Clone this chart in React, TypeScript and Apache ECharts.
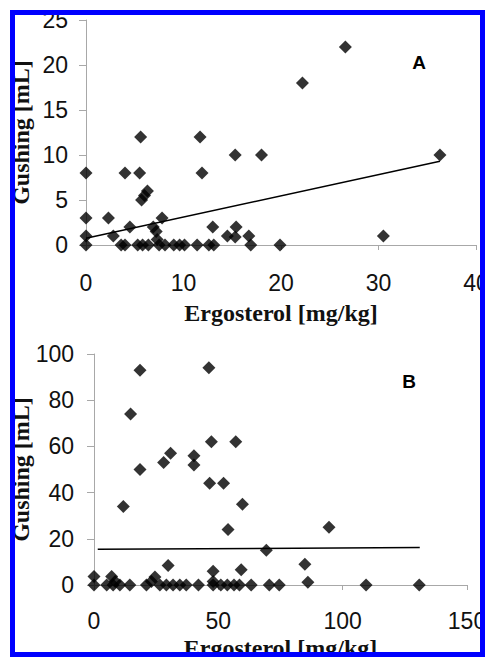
import React, { useEffect, useRef } from "react";
import * as echarts from "echarts";

// Panel A: ergosterol [mg/kg] vs gushing [mL]
const pointsA: [number, number][] = [
  [0, 8], [0, 3], [0, 1], [0, 0],
  [2.3, 3], [2.8, 1], [3.6, 0], [4.0, 0], [4.0, 8], [4.5, 2],
  [5.3, 0], [5.6, 12], [5.5, 8], [5.7, 5], [6.0, 5.5], [6.3, 6],
  [5.8, 0], [6.4, 0], [6.9, 2], [7.2, 1.5], [7.3, 0.6], [7.8, 3],
  [7.5, 0], [8.1, 0], [9.0, 0], [9.6, 0], [10.1, 0],
  [11.4, 0], [11.7, 12], [11.9, 8], [12.6, 0], [13.1, 0], [13.0, 2],
  [14.5, 1], [15.3, 10], [15.4, 2], [15.3, 0.9], [16.7, 1], [16.9, 0],
  [18.0, 10], [19.9, 0], [22.2, 18], [26.6, 22], [30.5, 1], [36.3, 10],
];
const trendA: [number, number][] = [
  [0, 0.75],
  [36.3, 9.3],
];
const xTicksA = { min: 0, max: 40, interval: 10 };
const yTicksA = { min: 0, max: 25, interval: 5 };

// Panel B
const pointsB: [number, number][] = [
  [0, 3.7], [0, 0], [5.1, 0], [7.1, 3.7], [7.7, 0], [8.5, 1.5], [10.4, 0], [14.4, 0],
  [11.8, 34], [14.7, 74], [18.5, 93], [18.5, 50],
  [21.1, 0], [23.1, 1.5], [24.5, 3.5], [26.5, 0], [28.0, 53], [29.1, 0],
  [30.8, 57], [29.8, 8.4], [31.8, 0], [34.5, 0], [37.1, 0],
  [40.2, 56], [40.2, 52], [42.0, 0],
  [46.2, 94], [47.2, 62], [46.5, 44], [47.9, 5.9], [47.9, 1.5], [47.9, 0],
  [51.0, 0], [52.1, 44], [53.6, 0], [53.9, 24], [56.3, 0], [57.0, 62],
  [58.5, 0], [59.2, 6.6], [59.7, 35], [63.2, 0],
  [69.3, 15], [70.5, 0], [74.5, 0], [84.8, 9], [86.0, 1.2], [94.5, 25],
  [109.4, 0], [130.8, 0],
];
const trendB: [number, number][] = [
  [1.5, 15.5],
  [131, 16.2],
];
const xTicksB = { min: 0, max: 150, interval: 50 };
const yTicksB = { min: 0, max: 100, interval: 20 };

const xTitle = "Ergosterol [mg/kg]";
const yTitle = "Gushing [mL]";
const panelLabels = ["A", "B"];

const axisGray = "#a8a8a8";
const labelStyle = {
  color: "#111",
  fontFamily: "Liberation Sans",
  fontSize: 23,
};
const nameStyle = {
  color: "#111",
  fontFamily: "Liberation Serif",
  fontWeight: "bold" as const,
  fontSize: 24,
};

function xAxis(gridIndex: number, ticks: any, nameGap: number, labelMargin: number) {
  return {
    type: "value",
    gridIndex,
    ...ticks,
    name: xTitle,
    nameLocation: "middle",
    nameGap,
    nameMoveOverlap: false,
    nameTextStyle: { ...nameStyle, lineHeight: 20 },
    axisLine: { show: true, lineStyle: { color: axisGray, width: 1 } },
    axisTick: { show: true, inside: false, length: 5, lineStyle: { color: axisGray } },
    axisLabel: {
      ...labelStyle,
      lineHeight: 20,
      margin: labelMargin,
      showMaxLabel: true,
      showMinLabel: true,
      hideOverlap: false,
    },
    splitLine: { show: false },
  };
}

function yAxis(gridIndex: number, ticks: any, nameGap: number, margin: number) {
  return {
    type: "value",
    gridIndex,
    ...ticks,
    name: yTitle,
    nameLocation: "middle",
    nameGap,
    nameMoveOverlap: false,
    nameTextStyle: nameStyle,
    axisLine: { show: true, lineStyle: { color: axisGray, width: 1 } },
    axisTick: { show: true, inside: false, length: 7, lineStyle: { color: axisGray } },
    axisLabel: {
      ...labelStyle,
      margin,
      padding: [4, 0, 0, 0],
      showMaxLabel: true,
      showMinLabel: true,
      hideOverlap: false,
    },
    splitLine: { show: false },
  };
}

export default function App() {
  const ref = useRef<HTMLDivElement>(null);
  useEffect(() => {
    if (!ref.current) return;
    const chart = echarts.init(ref.current, null, { renderer: "svg" });
    chart.setOption({
      animation: false,
      backgroundColor: "#ffffff",
      grid: [
        { left: 86, top: 20, width: 390, height: 225, outerBoundsMode: "none", containLabel: false },
        { left: 94, top: 354, width: 373, height: 231, outerBoundsMode: "none", containLabel: false },
      ],
      xAxis: [xAxis(0, xTicksA, 58, 28), xAxis(1, xTicksB, 53, 26)],
      yAxis: [yAxis(0, yTicksA, 53, 18), yAxis(1, yTicksB, 61, 20)],
      series: [
        {
          type: "scatter",
          xAxisIndex: 0,
          yAxisIndex: 0,
          symbol: "diamond",
          symbolSize: 13,
          itemStyle: { color: "#000" },
          data: pointsA,
          z: 3,
        },
        {
          type: "line",
          xAxisIndex: 0,
          yAxisIndex: 0,
          showSymbol: false,
          lineStyle: { color: "#000", width: 1.5 },
          data: trendA,
          z: 4,
        },
        {
          type: "scatter",
          xAxisIndex: 1,
          yAxisIndex: 1,
          symbol: "diamond",
          symbolSize: 13,
          itemStyle: { color: "#000" },
          data: pointsB,
          z: 3,
        },
        {
          type: "line",
          xAxisIndex: 1,
          yAxisIndex: 1,
          showSymbol: false,
          lineStyle: { color: "#000", width: 1.5 },
          data: trendB,
          z: 4,
        },
      ],
      graphic: [
        {
          type: "text",
          x: 419,
          y: 62,
          style: {
            text: panelLabels[0],
            fill: "#000",
            font: "bold 19px 'Liberation Sans'",
            textAlign: "center",
            textVerticalAlign: "middle",
          },
        },
        {
          type: "text",
          x: 409,
          y: 381,
          style: {
            text: panelLabels[1],
            fill: "#000",
            font: "bold 19px 'Liberation Sans'",
            textAlign: "center",
            textVerticalAlign: "middle",
          },
        },
        {
          type: "rect",
          z: 100,
          zlevel: 0,
          shape: { x: 12.5, y: 12.5, width: 470, height: 642 },
          style: { fill: "none", stroke: "#0000ff", lineWidth: 5 },
        },
      ],
    });
    return () => chart.dispose();
  }, []);
  return (
    <div
      ref={ref}
      style={{ position: "fixed", left: 0, top: 0, width: 485, height: 657, background: "#fff" }}
    />
  );
}
